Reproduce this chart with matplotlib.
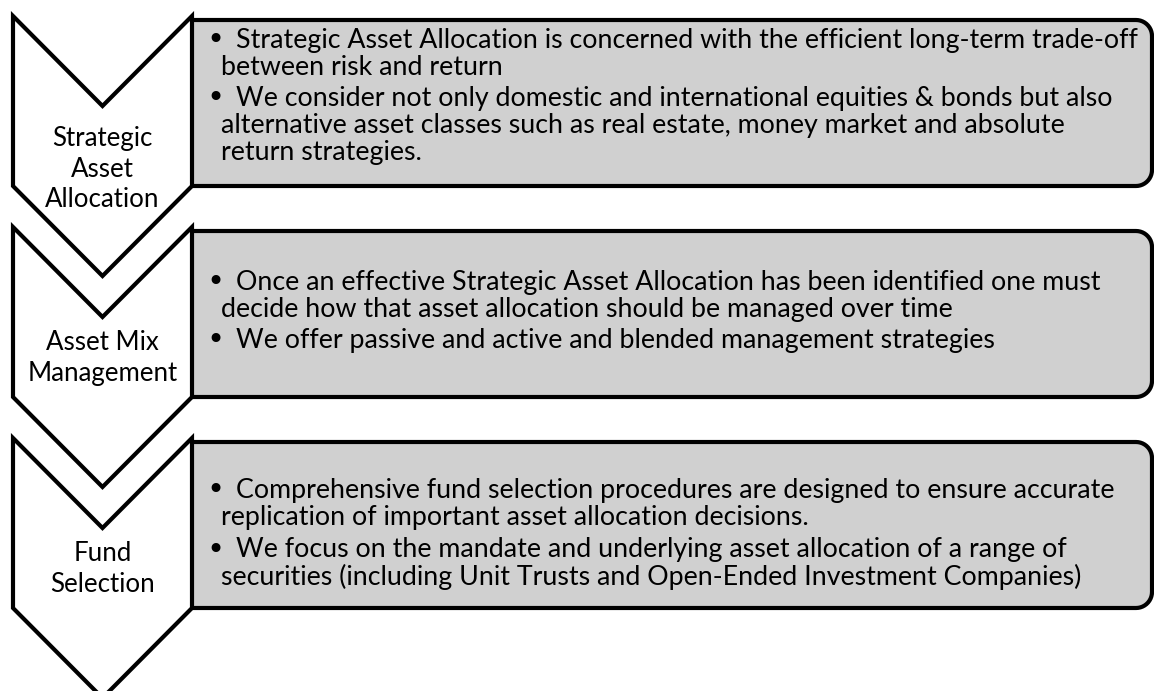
import numpy as np
import matplotlib.pyplot as plt
from matplotlib.patches import Polygon

stages = ['Strategic\nAsset\nAllocation', 'Asset Mix\nManagement', 'Fund\nSelection']
bullets = [
    [['Strategic Asset Allocation is concerned with the efficient long-term trade-off',
      'between risk and return'],
     ['We consider not only domestic and international equities & bonds but also',
      'alternative asset classes such as real estate, money market and absolute',
      'return strategies.']],
    [['Once an effective Strategic Asset Allocation has been identified one must',
      'decide how that asset allocation should be managed over time'],
     ['We offer passive and active and blended management strategies']],
    [['Comprehensive fund selection procedures are designed to ensure accurate',
      'replication of important asset allocation decisions.'],
     ['We focus on the mandate and underlying asset allocation of a range of',
      'securities (including Unit Trusts and Open-Ended Investment Companies)']],
]

W, H = 1154, 691
fig = plt.figure(figsize=(W / 100, H / 100), dpi=100)
ax = fig.add_axes([0, 0, 1, 1])
ax.set_xlim(0, W)
ax.set_ylim(H, 0)
ax.axis('off')

font = 'Lato'
fs = 19.3
x0, x1 = 13, 192
depth = 90
side = 170
step = 211
right = 1152
rad = 16
gray = '#d0d0d0'
text_start = [40, 282, 490]
bullet_gap = [4, 4, 6]


def box_outline(left, top, bottom, right, r):
    t = np.linspace(0, np.pi / 2, 12)
    pts = [(left, top), (right - r, top)]
    # top-right corner
    pts += list(zip(right - r + r * np.sin(t), top + r - r * np.cos(t)))
    # bottom-right corner
    pts += list(zip(right - r + r * np.cos(t), bottom - r + r * np.sin(t)))
    pts += [(left, bottom)]
    return pts


for i, (label, items) in enumerate(zip(stages, bullets)):
    top = 16 + i * step
    xm = (x0 + x1) / 2

    # grey text box with rounded right corners
    box = Polygon(box_outline(x1 - 2, top + 4, top + side, right, rad), closed=True,
                  facecolor=gray, edgecolor='black', lw=3, joinstyle='round', zorder=1)
    ax.add_patch(box)

    # chevron
    chev = [(x0, top), (xm, top + depth), (x1, top), (x1, top + side),
            (xm, top + side + depth), (x0, top + side)]
    ax.add_patch(Polygon(chev, closed=True, facecolor='white', edgecolor='black',
                         lw=3, joinstyle='miter', zorder=2))

    nlines = label.count('\n') + 1
    ax.text(xm, top + 131 + (nlines - 2) * 22, label, ha='center', va='center',
            fontsize=18.6, family=font, linespacing=1.27, zorder=3)

    y = text_start[i]
    for lines in items:
        for j, line in enumerate(lines):
            if j == 0:
                ax.text(215, y, '\u2022', ha='center', va='center', fontsize=22,
                        family='DejaVu Sans', zorder=3)
                ax.text(236, y, line, ha='left', va='center', fontsize=fs,
                        family=font, zorder=3)
            else:
                ax.text(221, y, line, ha='left', va='center', fontsize=fs,
                        family=font, zorder=3)
            y += 27
        y += bullet_gap[i]

fig.savefig('out.png', dpi=100)
